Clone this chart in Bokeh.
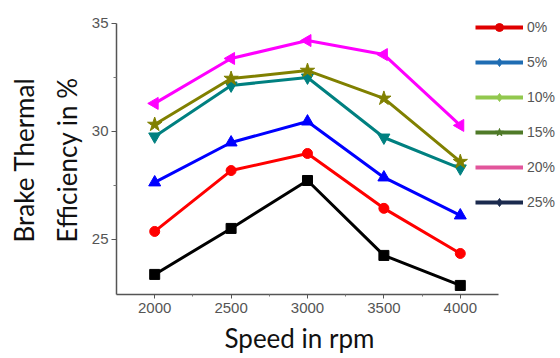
import math
from bokeh.plotting import figure
from bokeh.models import FixedTicker, Legend, LegendItem, Title
from bokeh.embed import file_html
from bokeh.resources import INLINE

# Engine speed (rpm) and brake thermal efficiency (%) per blend
speed = [2000, 2500, 3000, 3500, 4000]
bte_0 = [25.37, 28.19, 28.98, 26.44, 24.35]
bte_5 = [27.64, 29.49, 30.46, 27.87, 26.11]
bte_10 = [29.77, 32.13, 32.50, 29.72, 28.29]
bte_15 = [30.32, 32.45, 32.82, 31.53, 28.60]
bte_20 = [31.30, 33.38, 34.21, 33.56, 30.28]
bte_25 = [23.38, 25.51, 27.73, 24.26, 22.87]

blend_labels = ["0%", "5%", "10%", "15%", "20%", "25%"]
x_ticks = [2000, 2500, 3000, 3500, 4000]
y_ticks = [25, 30, 35]

# The frame runs to the top and right edges so the legend can sit beside
# the axes; the visible axis lines are limited with bounds.
p = figure(width=560, height=358, output_backend="svg", toolbar_location=None,
           x_range=(1750, 4655.8), y_range=(22.45, 36.065),
           min_border_left=116, min_border_right=0,
           min_border_top=0, min_border_bottom=64)
p.outline_line_color = None
p.xgrid.visible = False
p.ygrid.visible = False
p.background_fill_color = "white"

p.xaxis.bounds = (1750, 4250)
p.yaxis.bounds = (22.45, 35.0)

for ax in (p.xaxis[0], p.yaxis[0]):
    ax.axis_line_color = "#555555"
    ax.axis_line_width = 1.5
    ax.major_tick_line_color = "#555555"
    ax.minor_tick_line_color = "#777777"
    ax.major_tick_in = 0
    ax.minor_tick_in = 0
    ax.major_label_text_font = "Liberation Sans"
    ax.major_label_text_font_size = "15px"
    ax.major_label_text_color = "#555555"

p.xaxis.ticker = FixedTicker(ticks=x_ticks, minor_ticks=[2250, 2750, 3250, 3750])
p.yaxis.ticker = FixedTicker(ticks=y_ticks, minor_ticks=[27.5, 32.5])
p.xaxis.major_tick_out = 4
p.xaxis.minor_tick_out = 2
p.yaxis.major_tick_out = 5
p.yaxis.minor_tick_out = 3
p.xaxis.major_label_standoff = 4
p.yaxis.major_label_standoff = 3

title_font = "Lato"

# Data series: line + marker
series = [
    (bte_0, "#ff0000", "circle", 0.0, 10),
    (bte_5, "#0000ff", "triangle", 0.0, 12),
    (bte_10, "#008080", "inverted_triangle", 0.0, 12),
    (bte_15, "#808000", "star", 0.0, 15),
    (bte_20, "#ff00ff", "triangle", math.pi / 2, 12),
    (bte_25, "#000000", "square", 0.0, 10),
]
for vals, color, marker, ang, size in series:
    p.line(speed, vals, line_color=color, line_width=3)
    p.scatter(speed, vals, marker=marker, angle=ang, size=size,
              fill_color=color, line_color=color)

# Legend entries (proxy renderers hold a single NaN, so they draw nothing)
legend_style = [
    ("#e00000", "circle", 8),
    ("#1f6db3", "diamond", 7),
    ("#92c84e", "diamond", 5),
    ("#4f7a28", "star", 11),
    ("#e2559b", None, 0),
    ("#1b2a4e", "diamond", 7),
]
nan = float("nan")
items = []
for label, (color, marker, size) in zip(blend_labels, legend_style):
    rs = [p.line([nan], [nan], line_color=color, line_width=4)]
    if marker:
        rs.append(p.scatter([nan], [nan], marker=marker, size=size,
                            fill_color=color, line_color=color))
    items.append(LegendItem(label=label, renderers=rs))

legend = Legend(items=items, location=(359, 82), padding=0, margin=0,
                spacing=15, glyph_width=48, glyph_height=20, label_height=20,
                label_standoff=4, label_text_font="Liberation Sans",
                label_text_font_size="14px", label_text_color="#555555",
                border_line_color=None, background_fill_alpha=0,
                inactive_fill_alpha=0)
p.add_layout(legend)

# Horizontal axis title
p.add_layout(Title(text="Speed in rpm", align="left", offset=108, standoff=8,
                   text_font=title_font, text_font_size="26px",
                   text_font_style="normal", text_color="#111111"), "below")

# Two-line vertical axis title
for txt, so in (("Efficiency in %", 11), ("Brake Thermal", 8)):
    p.add_layout(Title(text=txt, align="left", offset=52, standoff=so,
                       text_font=title_font, text_font_size="26px",
                       text_font_style="normal", text_color="#111111"), "left")

open("out.html", "w").write(file_html(p, INLINE))
